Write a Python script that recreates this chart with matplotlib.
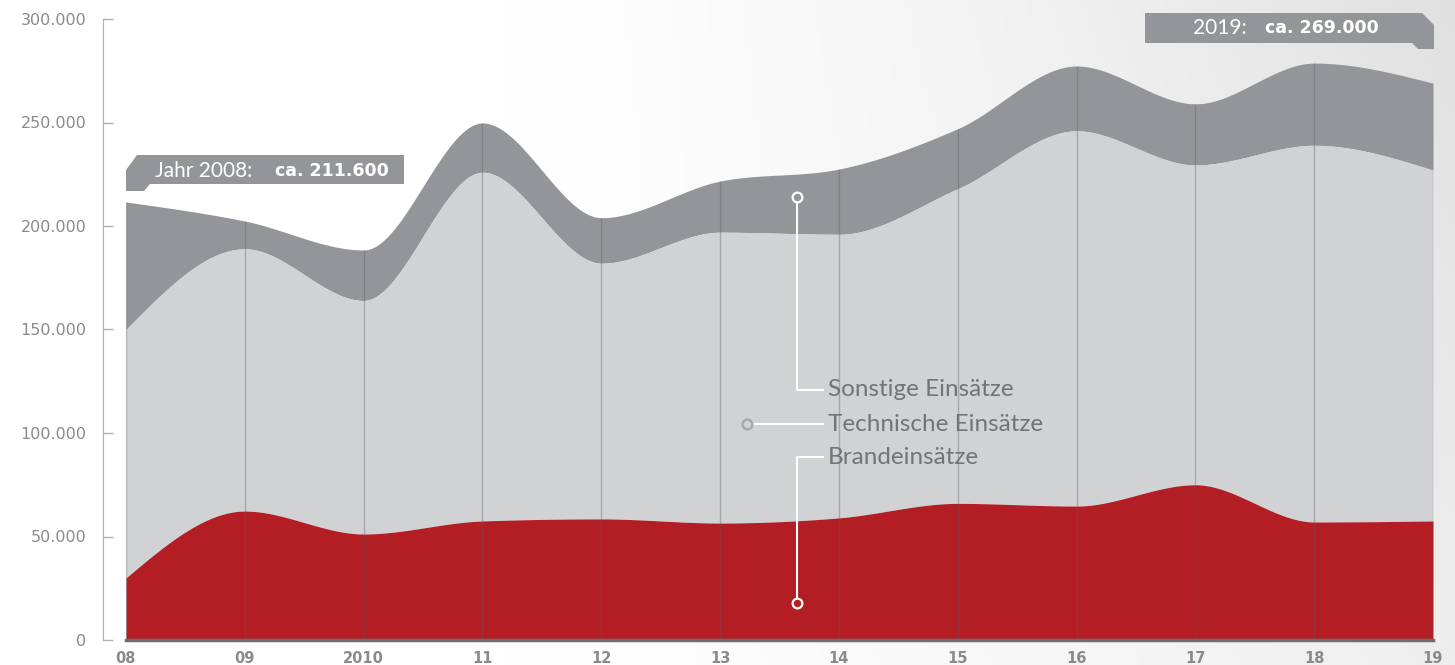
import numpy as np
import matplotlib
import matplotlib.pyplot as plt
from matplotlib.patches import Polygon

matplotlib.use('Agg')

# Data (values in thousands)
years = ['08', '09', '2010', '11', '12', '13', '14', '15', '16', '17', '18', '19']
brand = [30.0, 62.3, 51.2, 57.5, 58.5, 56.5, 59.0, 66.0, 64.7, 75.0, 57.0, 57.5]
technisch = [120.0, 126.7, 112.8, 168.5, 123.5, 140.5, 137.0, 152.0, 181.3, 154.5, 182.0, 169.5]
sonstige = [61.6, 13.4, 24.4, 23.8, 22.0, 24.7, 31.5, 29.0, 31.3, 29.5, 39.7, 42.0]
yticks = [0, 50000, 100000, 150000, 200000, 250000, 300000]
ytick_labels = ['0', '50.000', '100.000', '150.000', '200.000', '250.000', '300.000']
series_names = ['Sonstige Einsätze', 'Technische Einsätze', 'Brandeinsätze']

W, H = 1455, 665
RED = '#b31e25'
LIGHT = '#d1d2d4'
DARK = '#939598'
TXT = '#8a8a8a'
LATO = ['Lato', 'DejaVu Sans']


def monotone(x, y, n=30):
    # monotone cubic (like d3.curveMonotoneX), only for drawing smooth edges
    x = np.asarray(x, float)
    y = np.asarray(y, float)
    h = np.diff(x)
    s = np.diff(y) / h
    m = np.zeros_like(y)
    for i in range(1, len(y) - 1):
        p = (s[i - 1] * h[i] + s[i] * h[i - 1]) / (h[i - 1] + h[i])
        m[i] = (np.sign(s[i - 1]) + np.sign(s[i])) * min(abs(s[i - 1]), abs(s[i]), 0.5 * abs(p))
    m[0] = (3 * s[0] - m[1]) / 2
    m[-1] = (3 * s[-1] - m[-2]) / 2
    xs, ys = [], []
    for i in range(len(x) - 1):
        t = np.linspace(0, 1, n, endpoint=False)
        h00 = 2 * t**3 - 3 * t**2 + 1
        h10 = t**3 - 2 * t**2 + t
        h01 = -2 * t**3 + 3 * t**2
        h11 = t**3 - t**2
        xs.append(x[i] + t * h[i])
        ys.append(h00 * y[i] + h10 * h[i] * m[i] + h01 * y[i + 1] + h11 * h[i] * m[i + 1])
    xs.append([x[-1]])
    ys.append([y[-1]])
    return np.concatenate(xs), np.concatenate(ys)


def px(x, y):
    return (x / W, 1 - y / H)


x = np.arange(len(years))
b = np.array(brand) * 1000
bt = b + np.array(technisch) * 1000
total = bt + np.array(sonstige) * 1000

fig = plt.figure(figsize=(W / 100, H / 100), dpi=100)

# soft background gradient
bg = fig.add_axes([0, 0, 1, 1], zorder=-10)
gx, gy = np.meshgrid(np.linspace(0, 1, 300), np.linspace(0, 1, 140))
shade = np.clip((gx - 0.35) / 0.65, 0, 1) ** 1.3 * (0.55 + 0.45 * (1 - gy))
img = 1 - 0.12 * shade
bg.imshow(np.dstack([img, img, img]), aspect='auto', extent=[0, 1, 0, 1], origin='upper')
bg.axis('off')

ax = fig.add_axes([126 / W, 25 / H, 1307 / W, 621 / H])
ax.set_facecolor('none')

xs, yb = monotone(x, b)
_, ybt = monotone(x, bt)
_, ytot = monotone(x, total)
ax.fill_between(xs, ybt, ytot, color=DARK, lw=0, zorder=1)
ax.fill_between(xs, yb, ybt, color=LIGHT, lw=0, zorder=1)
ax.fill_between(xs, 0, yb, color=RED, lw=0, zorder=1)
ax.vlines(x, 0, total, color=(0.35, 0.35, 0.35, 0.35), lw=1, zorder=2)

ax.set_xlim(0, len(years) - 1)
ax.set_ylim(0, 300000)
ax.set_xticks(x)
ax.set_xticklabels(years, fontweight='bold')
ax.tick_params(axis='x', length=0, pad=8, labelcolor=TXT, labelsize=10.5)
ax.set_yticks(yticks)
ax.set_yticklabels(ytick_labels)
ax.tick_params(axis='y', direction='in', length=7, width=1, color='#b0b0b0', pad=12,
               labelcolor=TXT, labelsize=11.5)
for sp in ['top', 'right']:
    ax.spines[sp].set_visible(False)
ax.spines['left'].set_position(('outward', 16.5))
ax.spines['left'].set_color('#b0b0b0')
ax.spines['bottom'].set_color('#6d6e71')
ax.spines['bottom'].set_linewidth(2.5)
ax.spines['bottom'].set_zorder(5)

# legend call-outs
lab_x = 5.91
lab_ys = [120800, 104300, 88400]
for name, ly in zip(series_names, lab_ys):
    ax.text(lab_x, ly, name, fontsize=17.5, family=LATO, color='#737477',
            va='center', ha='left', zorder=6)
ax.plot([5.648, 5.648, 5.87], [214000, lab_ys[0], lab_ys[0]], color='white', lw=1.5, zorder=5)
ax.plot([5.227, 5.87], [lab_ys[1], lab_ys[1]], color='white', lw=1.5, zorder=5)
ax.plot([5.87, 5.648, 5.648], [lab_ys[2], lab_ys[2], 17900], color='white', lw=1.5, zorder=5)
ax.plot([5.648], [214000], 'o', ms=7, mfc=DARK, mec='white', mew=1.6, zorder=6)
ax.plot([5.227], [lab_ys[1]], 'o', ms=7, mfc=LIGHT, mec='#a7a9ac', mew=1.8, zorder=6)
ax.plot([5.648], [17900], 'o', ms=7, mfc=RED, mec='white', mew=1.6, zorder=6)

# value boxes
box1 = [(126, 170), (137, 155), (404, 155), (404, 184), (150, 184), (144, 191), (126, 191)]
box2 = [(1145, 13), (1422, 13), (1434, 25), (1434, 49), (1418, 49), (1412, 43), (1145, 43)]
for box in [box1, box2]:
    fig.patches.append(Polygon([px(*p) for p in box], closed=True, transform=fig.transFigure,
                               facecolor=DARK, edgecolor='none', zorder=8))
fig.text(*px(155, 171), 'Jahr 2008:', fontsize=15, family=LATO,
         color='white', va='center', ha='left', zorder=9)
fig.text(*px(275, 171), 'ca. 211.600', fontsize=12.5, fontweight='bold', color='white',
         va='center', ha='left', zorder=9)
fig.text(*px(1247, 28), '2019:', fontsize=15, family=LATO,
         color='white', va='center', ha='right', zorder=9)
fig.text(*px(1265, 28), 'ca. 269.000', fontsize=12.5, fontweight='bold', color='white',
         va='center', ha='left', zorder=9)

fig.savefig('out.png', dpi=100)
